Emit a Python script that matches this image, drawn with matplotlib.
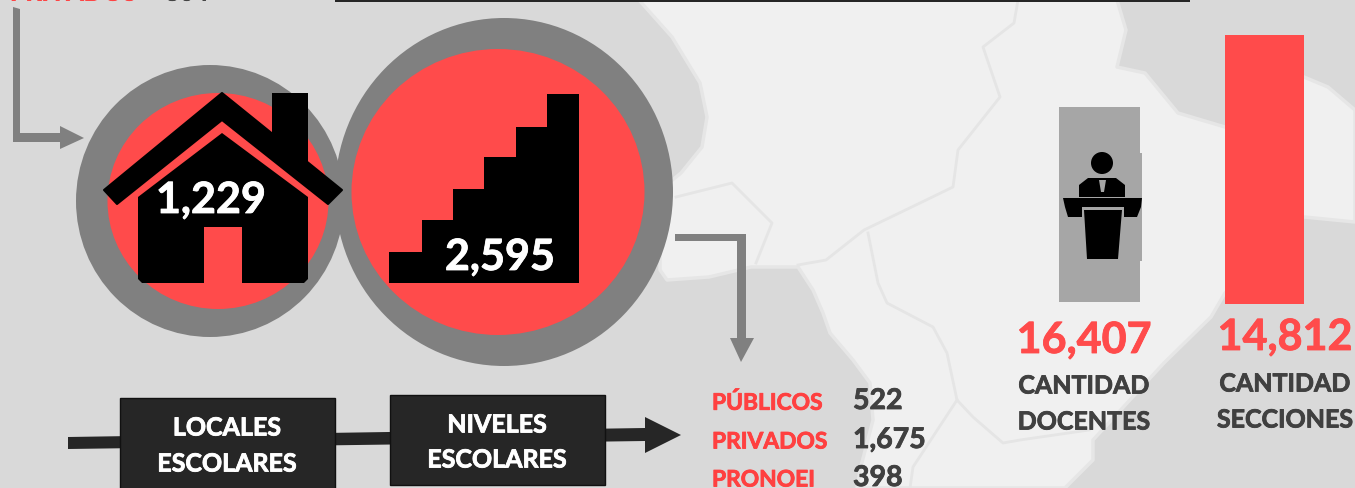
import matplotlib
matplotlib.use("Agg")
import matplotlib.pyplot as plt
from matplotlib.patches import Ellipse, Polygon, Rectangle
import matplotlib.patheffects as pe

RED = "#ff4b4b"
RED_T = "#ff4040"
GREY = "#808080"
DARK = "#262626"
TXT = "#404040"

# ---- values
table_labels = ["PÚBLICOS", "PRIVADOS", "PRONOEI"]
table_values = ["522", "1,675", "398"]
top_label, top_value = "PRIVADOS", "804"
locales_value, niveles_value = "1,229", "2,595"
docentes_value, secciones_value = "16,407", "14,812"
box_labels = ["LOCALES\nESCOLARES", "NIVELES\nESCOLARES"]
count_labels = ["CANTIDAD", "DOCENTES", "SECCIONES"]

plt.rcParams["font.family"] = ["Lato", "DejaVu Sans"]
plt.rcParams["font.weight"] = "bold"

fig = plt.figure(figsize=(13.55, 4.88), dpi=100, facecolor="#d9d9d9")
ax = fig.add_axes([0, 0, 1, 1])
ax.set_xlim(0, 1355)
ax.set_ylim(488, 0)
ax.axis("off")


def poly(pts, color, z=2, **kw):
    ax.add_patch(Polygon(pts, closed=True, fc=color, ec=kw.pop("ec", "none"), zorder=z, **kw))


def line(pts, color, lw, z=1.5):
    ax.plot(*zip(*pts), color=color, lw=lw, zorder=z, solid_joinstyle="round")


def label(x, y, s, color, size, ha="center", stroke=0.6):
    t = ax.text(x, y, s, color=color, fontsize=size, ha=ha, va="center", zorder=6)
    t.set_path_effects([pe.withStroke(linewidth=stroke, foreground=color)])
    return t


# ---- map backdrop
land = [(639, 0), (672, 37), (700, 83), (707, 117), (702, 147), (681, 173), (660, 190),
        (660, 270), (667, 280), (709, 277), (751, 267), (798, 267), (813, 290), (823, 313),
        (830, 333), (853, 360), (870, 383), (873, 420), (860, 470), (857, 488),
        (1065, 488), (1093, 460), (1093, 440), (1164, 363), (1211, 317), (1225, 293),
        (1304, 217), (1355, 222), (1355, 110), (1328, 87), (1304, 77), (1225, 127),
        (1178, 113), (1145, 73), (1117, 67), (1126, 30), (1117, 0)]
poly(land, "#f0f0f0", z=1, ec="#e6e6e6", lw=2.5, joinstyle="round")
border = "#e5e5e5"
line([(1018, 0), (1014, 23), (983, 47), (1000, 97), (958, 150), (953, 187), (920, 203),
      (864, 230), (826, 260), (798, 265)], border, 2)
line([(868, 233), (878, 283), (887, 303), (933, 327), (947, 353), (957, 400), (973, 417),
      (1003, 443), (1020, 440), (1089, 430)], border, 2)
line([(957, 400), (913, 467), (910, 488)], border, 2)
line([(676, 197), (732, 183), (772, 223), (756, 263)], border, 2)

# ---- top rule and clipped heading
ax.add_patch(Rectangle((335, -2), 855, 4, fc=DARK, ec="none", zorder=3))
label(10, -7, top_label, RED_T, 18, ha="left")
label(165, -7, top_value, TXT, 18, ha="left")

# ---- left elbow arrow
poly([(13, 7), (20, 9), (20, 133), (60, 133), (60, 126), (84, 138), (60, 149), (60, 142), (13, 142)], GREY, z=3)

# ---- circles
ax.add_patch(Ellipse((210, 201), 268, 272, fc=GREY, ec="none", zorder=3))
ax.add_patch(Ellipse((218, 201), 221, 216, fc=RED, ec="none", zorder=3.1))
ax.add_patch(Ellipse((504, 192), 338, 348, fc=GREY, ec="none", zorder=3.2))
ax.add_patch(Ellipse((498, 192), 293, 286, fc=RED, ec="none", zorder=3.3))

# ---- house icon
poly([(138, 197), (222, 133), (308, 197), (308, 279), (304, 283), (242, 283), (242, 227),
      (204, 227), (204, 283), (142, 283), (138, 279)], "black", z=4)
poly([(272, 93), (308, 93), (308, 172), (272, 140)], "black", z=4)
poly([(222, 93), (342, 190), (328, 204), (222, 120), (117, 204), (104, 190)], "black", z=4,
     ec="black", lw=1.5, joinstyle="round")

# ---- stairs icon
poly([(389, 283), (389, 252), (422, 252), (422, 220), (453, 220), (453, 189), (484, 189),
      (484, 157), (516, 157), (516, 127), (547, 127), (547, 94), (579, 94), (579, 283)], "black", z=4)

label(211, 200, locales_value, "white", 31)
label(500, 257, niveles_value, "white", 31)

# ---- right elbow arrow
poly([(675, 234), (746, 234), (746, 338), (754, 338), (741, 362), (730, 338), (737, 338),
      (737, 241), (675, 241)], GREY, z=3)

# ---- bottom arrow and boxes
poly([(68, 437), (645, 428), (645, 417), (681, 435), (645, 453), (645, 441), (68, 449)], DARK, z=3)
ax.add_patch(Rectangle((119.5, 397.5), 215, 95, fc=DARK, ec="#111111", lw=1, zorder=4))
ax.add_patch(Rectangle((390, 395), 215, 90, fc=DARK, ec="#111111", lw=1, zorder=4))
l1, l2 = box_labels[0].split("\n")
label(227, 428, l1, "white", 18)
label(227, 464, l2, "white", 18)
l1, l2 = box_labels[1].split("\n")
label(497, 425, l1, "white", 18)
label(497, 460, l2, "white", 18)

# ---- table
for y, lab, val in zip((403, 442, 480), table_labels, table_values):
    label(712, y, lab, RED_T, 16.4, ha="left")
    label(853, y - 2, val, TXT, 20.5, ha="left")

# ---- docentes
ax.add_patch(Rectangle((1059, 107), 80.5, 195, fc="#a6a6a6", ec="none", zorder=3))
ax.add_patch(Rectangle((1139.5, 153), 2.5, 108, fc="#a6a6a6", ec="none", zorder=3))
ax.add_patch(Ellipse((1102, 163), 22, 22, fc="black", ec="none", zorder=4))
poly([(1079, 197), (1079, 185), (1088, 178), (1116, 178), (1125, 185), (1125, 197)], "black", z=4)
poly([(1063, 198), (1142, 198), (1141, 207), (1137, 217), (1124, 217), (1124, 207), (1082, 207),
      (1082, 217), (1068, 217), (1065, 207)], "black", z=4)
poly([(1084, 210), (1122, 210), (1118, 259), (1087, 259)], "black", z=4)
poly([(1099, 180), (1106, 180), (1104, 192), (1101, 192)], "#a6a6a6", z=4.1)

label(1084, 340, docentes_value, RED, 31)
label(1084, 386, count_labels[0], TXT, 18)
label(1084, 422, count_labels[1], TXT, 18)

# ---- secciones
ax.add_patch(Rectangle((1225, 35), 79, 269, fc=RED, ec="none", zorder=3))
label(1285, 337, secciones_value, RED, 31)
label(1285, 384, count_labels[0], TXT, 18)
label(1285, 420, count_labels[2], TXT, 18)

fig.savefig("out.png", dpi=100, facecolor=fig.get_facecolor())
